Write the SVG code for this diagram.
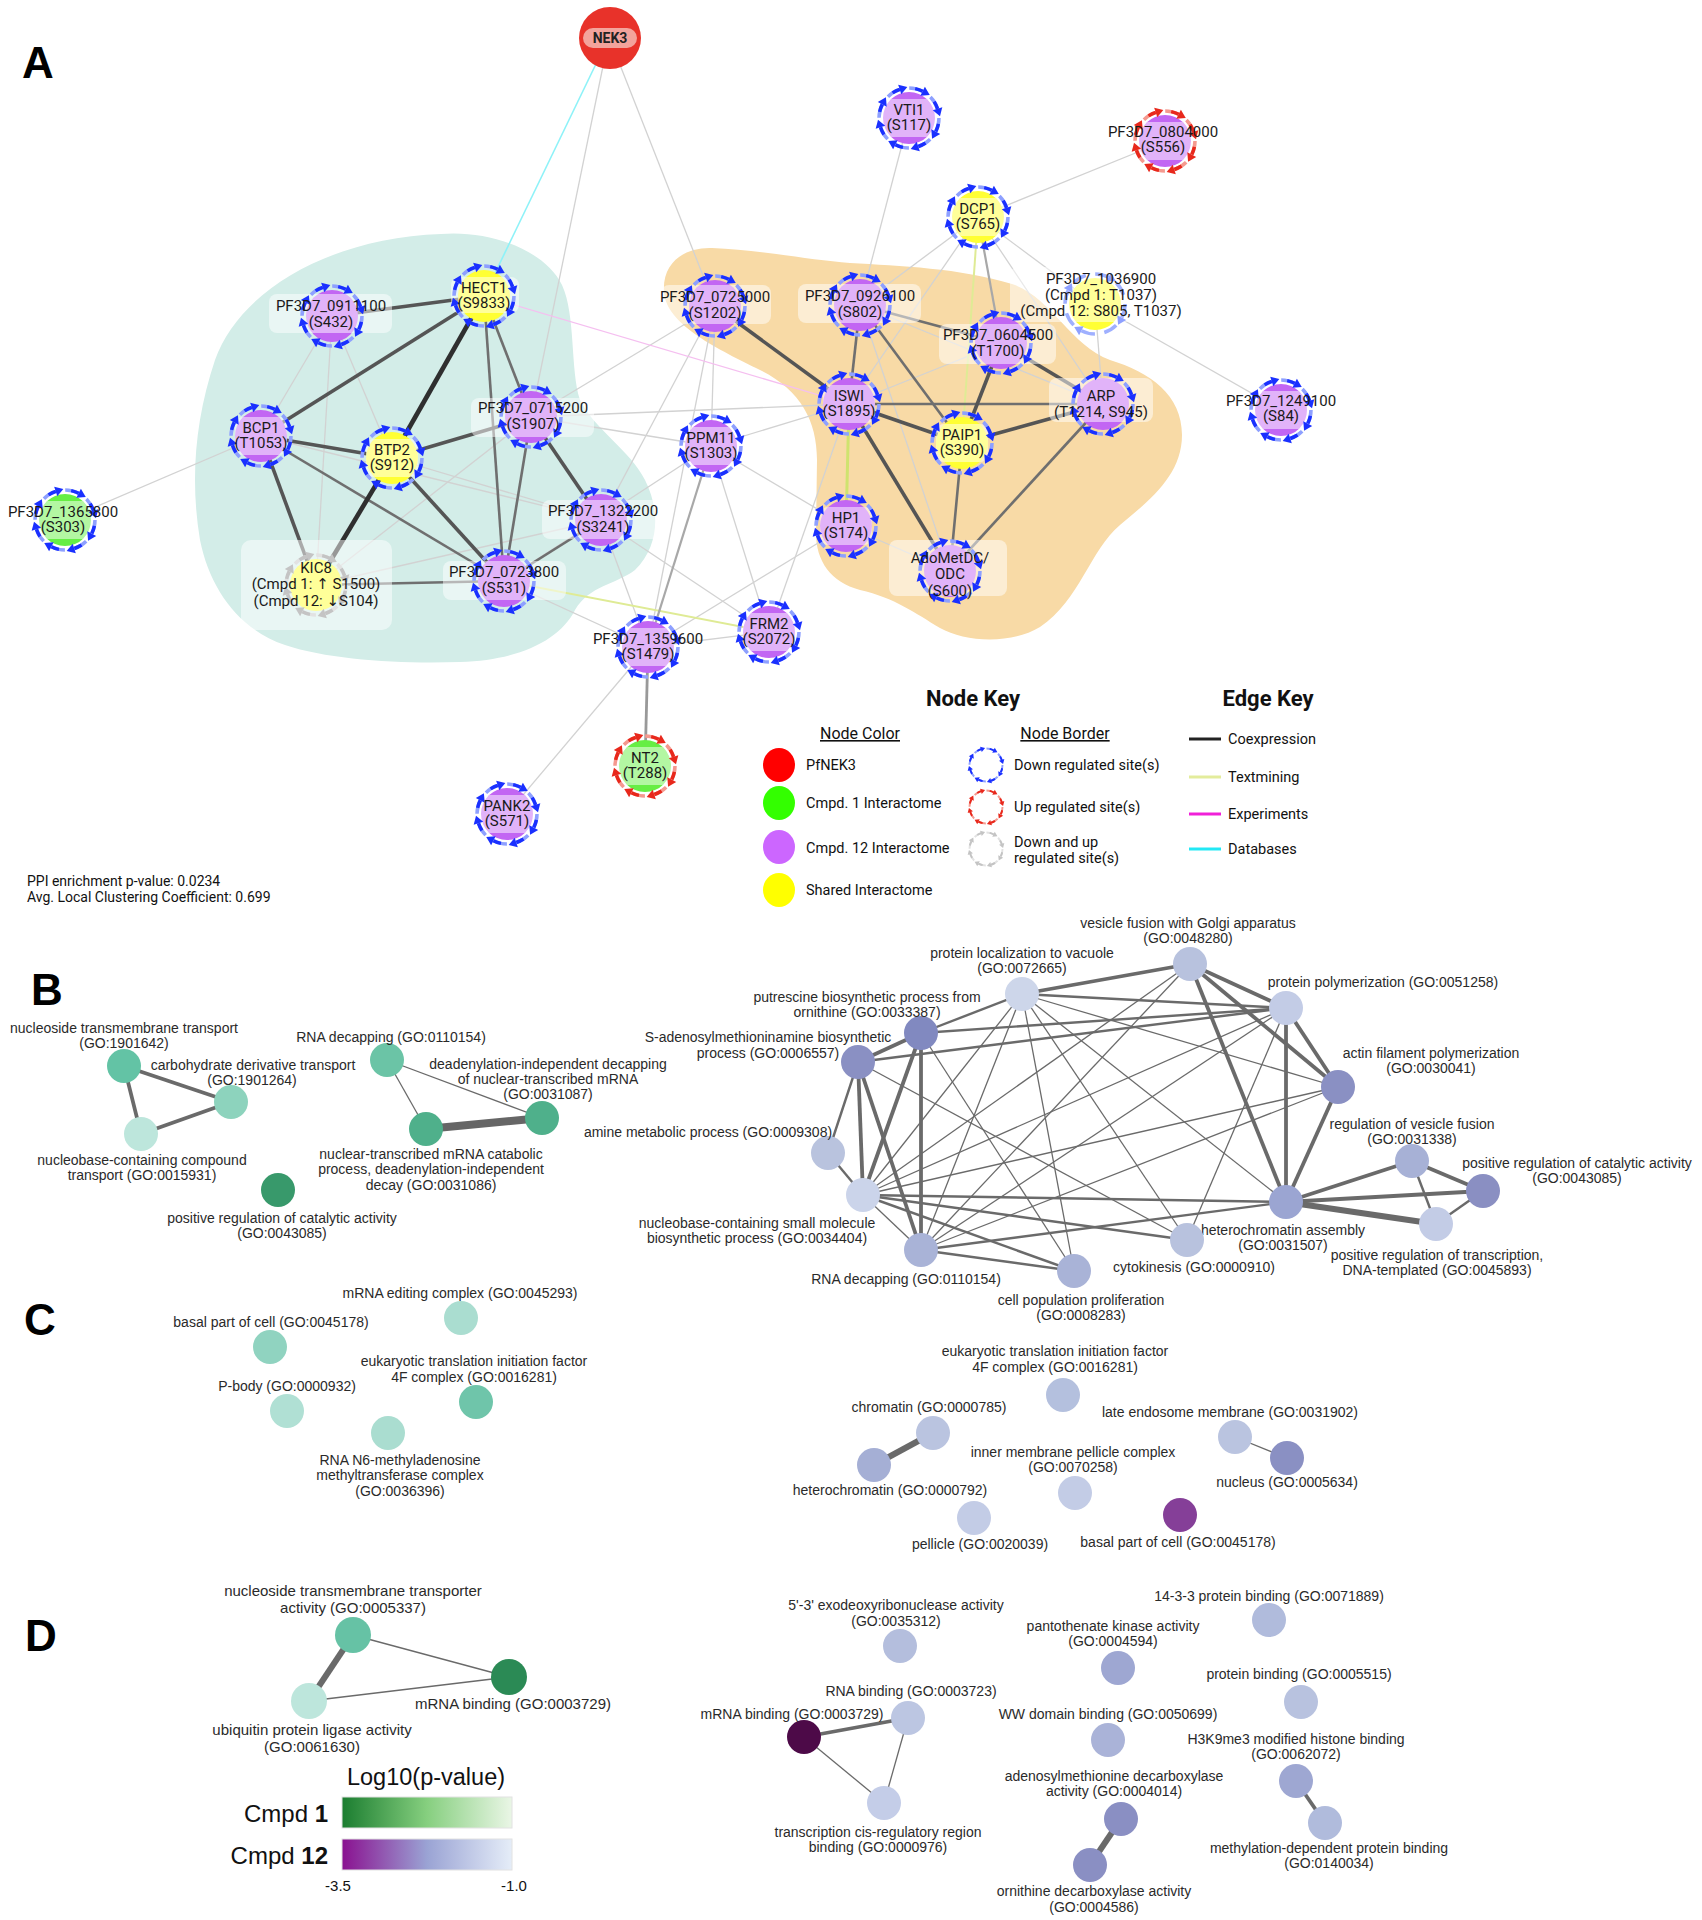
<svg xmlns="http://www.w3.org/2000/svg" width="1702" height="1920" viewBox="0 0 1702 1920">
<defs>
<style>
.panel{font-family:"Liberation Sans",Arial,sans-serif;font-weight:bold;font-size:44px;fill:#000}
.nl{font-family:Roboto,"Liberation Sans",sans-serif;font-size:15px;fill:#1a1a1a;text-anchor:middle}
.lb{fill:#fff;fill-opacity:.5}
.pu{fill:#c266f3}
.ye{fill:#ffff33}
.gr{fill:#66ee44}
.e0{stroke:#d2d2d2;stroke-width:1.3;fill:none}
.e1{stroke:#a8a8a8;stroke-width:2.2;fill:none}
.e2{stroke:#6f6f6f;stroke-width:2.6;fill:none}
.e3{stroke:#555;stroke-width:3.6;fill:none}
.e4{stroke:#2f2f2f;stroke-width:4.6;fill:none}
.tm{stroke:#dfeb95;stroke-width:2;fill:none}
.tm2{stroke:#cfe36f;stroke-width:3;fill:none}
.ex{stroke:#f5bff0;stroke-width:1.3;fill:none}
.db{stroke:#8ef2f8;stroke-width:1.6;fill:none}
.g1{stroke:#6a6a6a;stroke-width:1.3;fill:none}
.g2{stroke:#6a6a6a;stroke-width:2.4;fill:none}
.g3{stroke:#6a6a6a;stroke-width:3.8;fill:none}
.g4{stroke:#6a6a6a;stroke-width:6;fill:none}
.g5{stroke:#666;stroke-width:8;fill:none}
.go{font-family:"Liberation Sans",Arial,sans-serif;font-size:14px;fill:#2a2a2a;text-anchor:middle}
.lg{font-family:Roboto,"Liberation Sans",sans-serif;font-size:14.5px;fill:#111}
.lh{font-family:Roboto,"Liberation Sans",sans-serif;font-size:22px;font-weight:bold;fill:#111;text-anchor:middle}
.lu{font-family:Roboto,"Liberation Sans",sans-serif;font-size:16px;fill:#111;text-anchor:middle;text-decoration:underline}
.st{font-family:Roboto,"Liberation Sans",sans-serif;font-size:14px;fill:#111}
.ar{font-family:"DejaVu Sans",sans-serif;font-size:15px}
</style>
<g id="ringB">
<circle r="30" fill="none" stroke="#8ea0ff" stroke-width="3.5" stroke-dasharray="14 9.56"/>
<circle r="30" fill="none" stroke="#1a30ff" stroke-width="3.5" stroke-dasharray="8 15.56" stroke-dashoffset="-6"/>
<g fill="#1a30ff">
<path d="M0,-35 L8,-30 L0,-25Z" transform="rotate(117)"/>
<path d="M0,-35 L8,-30 L0,-25Z" transform="rotate(162)"/>
<path d="M0,-35 L8,-30 L0,-25Z" transform="rotate(207)"/>
<path d="M0,-35 L8,-30 L0,-25Z" transform="rotate(252)"/>
<path d="M0,-35 L8,-30 L0,-25Z" transform="rotate(297)"/>
<path d="M0,-35 L8,-30 L0,-25Z" transform="rotate(342)"/>
<path d="M0,-35 L8,-30 L0,-25Z" transform="rotate(27)"/>
<path d="M0,-35 L8,-30 L0,-25Z" transform="rotate(72)"/>
</g>
</g>
<g id="ringR">
<circle r="30" fill="none" stroke="#f5998f" stroke-width="3.5" stroke-dasharray="14 9.56"/>
<circle r="30" fill="none" stroke="#e8281c" stroke-width="3.5" stroke-dasharray="8 15.56" stroke-dashoffset="-6"/>
<g fill="#e8281c">
<path d="M0,-35 L8,-30 L0,-25Z" transform="rotate(117)"/>
<path d="M0,-35 L8,-30 L0,-25Z" transform="rotate(162)"/>
<path d="M0,-35 L8,-30 L0,-25Z" transform="rotate(207)"/>
<path d="M0,-35 L8,-30 L0,-25Z" transform="rotate(252)"/>
<path d="M0,-35 L8,-30 L0,-25Z" transform="rotate(297)"/>
<path d="M0,-35 L8,-30 L0,-25Z" transform="rotate(342)"/>
<path d="M0,-35 L8,-30 L0,-25Z" transform="rotate(27)"/>
<path d="M0,-35 L8,-30 L0,-25Z" transform="rotate(72)"/>
</g>
</g>
<g id="ringG">
<circle r="30" fill="none" stroke="#e2e2e2" stroke-width="3.5" stroke-dasharray="14 9.56"/>
<circle r="30" fill="none" stroke="#c4c4c4" stroke-width="3.5" stroke-dasharray="8 15.56" stroke-dashoffset="-6"/>
<g fill="#c4c4c4">
<path d="M0,-35 L8,-30 L0,-25Z" transform="rotate(117)"/>
<path d="M0,-35 L8,-30 L0,-25Z" transform="rotate(162)"/>
<path d="M0,-35 L8,-30 L0,-25Z" transform="rotate(207)"/>
<path d="M0,-35 L8,-30 L0,-25Z" transform="rotate(252)"/>
<path d="M0,-35 L8,-30 L0,-25Z" transform="rotate(297)"/>
<path d="M0,-35 L8,-30 L0,-25Z" transform="rotate(342)"/>
<path d="M0,-35 L8,-30 L0,-25Z" transform="rotate(27)"/>
<path d="M0,-35 L8,-30 L0,-25Z" transform="rotate(72)"/>
</g>
</g>
<g id="ringL">
<circle r="30" fill="none" stroke="#9fb0ff" stroke-width="3.5" stroke-dasharray="14 9.56"/>
<g fill="#8ea0ff">
<path d="M0,-35 L8,-30 L0,-25Z" transform="rotate(117)"/>
<path d="M0,-35 L8,-30 L0,-25Z" transform="rotate(207)"/>
<path d="M0,-35 L8,-30 L0,-25Z" transform="rotate(297)"/>
<path d="M0,-35 L8,-30 L0,-25Z" transform="rotate(27)"/>
</g>
</g>
<linearGradient id="gG" x1="0" x2="1" y1="0" y2="0"><stop offset="0" stop-color="#1b7d30"/><stop offset=".5" stop-color="#86cf7f"/><stop offset="1" stop-color="#eaf6e6"/></linearGradient>
<linearGradient id="gP" x1="0" x2="1" y1="0" y2="0"><stop offset="0" stop-color="#8a1190"/><stop offset=".5" stop-color="#9aa3d4"/><stop offset="1" stop-color="#e5edf8"/></linearGradient>
</defs>
<rect width="1702" height="1920" fill="#fff"/>

<!-- Panel labels -->
<text class="panel" x="22" y="78">A</text>
<text class="panel" x="31" y="1005">B</text>
<text class="panel" x="24" y="1335">C</text>
<text class="panel" x="25" y="1651">D</text>

<!-- Hulls -->
<g id="hulls">
<path fill="#d3ede8" d="M441,234 C490,230 545,250 562,285 C576,315 570,370 580,400 C595,430 630,450 645,480 C660,510 660,545 635,570 C615,585 590,585 575,610 C560,640 520,660 460,662 C400,664 330,660 285,645 C240,630 210,590 200,540 C190,480 195,420 215,360 C240,290 330,238 441,234 Z"/>
<path fill="#f8daa6" d="M664,292 C662,262 685,247 712,248 C760,250 810,260 850,263 C900,266 960,268 1012,284 C1050,296 1070,345 1110,360 C1150,372 1182,395 1182,435 C1182,475 1150,500 1120,525 C1090,550 1080,600 1040,627 C1010,645 965,642 940,628 C915,613 895,598 860,590 C830,582 815,560 816,530 L817,460 C817,420 800,390 760,370 C720,350 666,325 664,292 Z"/>
</g>

<!-- Connectors panel A -->
<g id="connectors-A">
<line class="db" x1="609" y1="37" x2="484" y2="296"/>
<line class="e0" x1="609" y1="37" x2="531" y2="417"/>
<line class="e0" x1="609" y1="37" x2="715" y2="306"/>
<line class="e0" x1="332" y1="316" x2="261" y2="436"/>
<line class="e0" x1="332" y1="316" x2="392" y2="458"/>
<line class="e0" x1="332" y1="316" x2="316" y2="585"/>
<line class="e0" x1="261" y1="436" x2="601" y2="520"/>
<line class="e0" x1="261" y1="436" x2="65" y2="520"/>
<line class="e0" x1="392" y1="458" x2="601" y2="520"/>
<line class="e0" x1="531" y1="417" x2="316" y2="585"/>
<line class="e0" x1="531" y1="417" x2="711" y2="446"/>
<line class="e0" x1="531" y1="417" x2="715" y2="306"/>
<line class="e0" x1="531" y1="417" x2="849" y2="404"/>
<line class="e0" x1="316" y1="585" x2="601" y2="520"/>
<line class="e0" x1="504" y1="581" x2="648" y2="647"/>
<line class="e0" x1="601" y1="520" x2="648" y2="647"/>
<line class="e0" x1="601" y1="520" x2="769" y2="632"/>
<line class="e0" x1="715" y1="306" x2="601" y2="520"/>
<line class="e0" x1="715" y1="306" x2="711" y2="446"/>
<line class="e0" x1="715" y1="306" x2="648" y2="647"/>
<line class="e0" x1="711" y1="446" x2="849" y2="404"/>
<line class="e0" x1="711" y1="446" x2="846" y2="526"/>
<line class="e0" x1="711" y1="446" x2="769" y2="632"/>
<line class="e0" x1="711" y1="446" x2="504" y2="581"/>
<line class="e0" x1="849" y1="404" x2="769" y2="632"/>
<line class="e0" x1="846" y1="526" x2="648" y2="647"/>
<line class="e0" x1="769" y1="632" x2="648" y2="647"/>
<line class="e0" x1="648" y1="647" x2="507" y2="814"/>
<line class="e0" x1="860" y1="305" x2="1103" y2="404"/>
<line class="e0" x1="860" y1="305" x2="950" y2="571"/>
<line class="e0" x1="1001" y1="343" x2="849" y2="404"/>
<line class="e0" x1="978" y1="217" x2="860" y2="305"/>
<line class="e0" x1="978" y1="217" x2="849" y2="404"/>
<line class="e0" x1="978" y1="217" x2="1095" y2="304"/>
<line class="e0" x1="978" y1="217" x2="1103" y2="404"/>
<line class="e0" x1="978" y1="217" x2="1165" y2="141"/>
<line class="e0" x1="909" y1="118" x2="860" y2="305"/>
<line class="e0" x1="1095" y1="304" x2="1281" y2="410"/>
<line class="e0" x1="1095" y1="304" x2="1103" y2="404"/>
<line class="e0" x1="846" y1="526" x2="950" y2="571"/>
<line class="ex" x1="484" y1="296" x2="849" y2="404"/>
<line class="tm" x1="504" y1="581" x2="769" y2="632"/>
<line class="tm" x1="978" y1="217" x2="962" y2="443"/>
<line class="e1" x1="711" y1="446" x2="648" y2="647"/>
<line class="e1" x1="978" y1="217" x2="1001" y2="343"/>
<line class="e1" x1="648" y1="647" x2="645" y2="766" style="stroke:#999;stroke-width:2.8"/>
<line class="e2" x1="484" y1="296" x2="531" y2="417"/>
<line class="e2" x1="484" y1="296" x2="504" y2="581"/>
<line class="e2" x1="261" y1="436" x2="504" y2="581"/>
<line class="e2" x1="531" y1="417" x2="504" y2="581"/>
<line class="e2" x1="601" y1="520" x2="504" y2="581"/>
<line class="e2" x1="316" y1="585" x2="504" y2="581"/>
<line class="e2" x1="860" y1="305" x2="849" y2="404"/>
<line class="e2" x1="860" y1="305" x2="1001" y2="343"/>
<line class="e2" x1="860" y1="305" x2="962" y2="443"/>
<line class="e2" x1="849" y1="404" x2="1103" y2="404"/>
<line class="e2" x1="962" y1="443" x2="950" y2="571"/>
<line class="e2" x1="1103" y1="404" x2="950" y2="571"/>
<line class="tm2" x1="849" y1="404" x2="846" y2="526"/>
<line class="e3" x1="332" y1="316" x2="484" y2="296"/>
<line class="e3" x1="484" y1="296" x2="261" y2="436"/>
<line class="e3" x1="261" y1="436" x2="392" y2="458"/>
<line class="e3" x1="261" y1="436" x2="316" y2="585"/>
<line class="e3" x1="392" y1="458" x2="531" y2="417"/>
<line class="e3" x1="392" y1="458" x2="504" y2="581"/>
<line class="e3" x1="531" y1="417" x2="601" y2="520"/>
<line class="e3" x1="715" y1="306" x2="849" y2="404"/>
<line class="e3" x1="1001" y1="343" x2="962" y2="443"/>
<line class="e3" x1="1001" y1="343" x2="1103" y2="404"/>
<line class="e3" x1="849" y1="404" x2="962" y2="443"/>
<line class="e3" x1="849" y1="404" x2="950" y2="571"/>
<line class="e3" x1="962" y1="443" x2="1103" y2="404"/>
<line class="e4" x1="484" y1="296" x2="392" y2="458"/>
<line class="e4" x1="392" y1="458" x2="316" y2="585"/>
</g>

<!-- Nodes panel A -->
<g id="node-NEK3">
<circle cx="610" cy="38" r="31" fill="#e8322a"/>
<rect x="583" y="28" width="54" height="20" rx="10" fill="#f3a39c"/>
<text x="610" y="43" style="font-family:Roboto,'Liberation Sans',sans-serif;font-size:14px;font-weight:bold;fill:#222;text-anchor:middle">NEK3</text>
</g>
<g id="node-VTI1">
<circle cx="909" cy="118" r="26" class="pu"/>
<rect class="lb" x="875" y="99" width="68" height="38" rx="8"/>
<use href="#ringB" x="909" y="118"/>
<text class="nl" x="909" y="115">VTI1</text><text class="nl" x="909" y="130">(S117)</text>
</g>
<g id="node-PF3D7_0804000">
<circle cx="1165" cy="141" r="26" class="pu"/>
<rect class="lb" x="1139" y="122" width="52" height="38" rx="8"/>
<use href="#ringR" x="1165" y="141"/>
<text class="nl" x="1163" y="137">PF3D7_0804000</text><text class="nl" x="1163" y="152">(S556)</text>
</g>
<g id="node-DCP1">
<circle cx="978" cy="217" r="26" class="ye"/>
<rect class="lb" x="952" y="198" width="52" height="38" rx="8"/>
<use href="#ringB" x="978" y="217"/>
<text class="nl" x="978" y="214">DCP1</text><text class="nl" x="978" y="229">(S765)</text>
</g>
<g id="node-PF3D7_1036900">
<circle cx="1095" cy="304" r="26" class="ye"/>
<rect class="lb" x="1010" y="267" width="174" height="55" rx="8"/>
<use href="#ringL" x="1095" y="304"/>
<text class="nl" x="1101" y="284">PF3D7_1036900</text><text class="nl" x="1101" y="300">(Cmpd 1: T1037)</text><text class="nl" x="1101" y="316">(Cmpd 12: S805, T1037)</text>
</g>
<g id="node-PF3D7_1249100">
<circle cx="1281" cy="410" r="26" class="pu"/>
<rect class="lb" x="1255" y="391" width="52" height="38" rx="8"/>
<use href="#ringB" x="1281" y="410"/>
<text class="nl" x="1281" y="406">PF3D7_1249100</text><text class="nl" x="1281" y="421">(S84)</text>
</g>
<g id="node-PF3D7_0725000">
<circle cx="715" cy="306" r="26" class="pu"/>
<rect class="lb" x="661" y="285" width="110" height="39" rx="8"/>
<use href="#ringB" x="715" y="306"/>
<text class="nl" x="715" y="302">PF3D7_0725000</text><text class="nl" x="715" y="318">(S1202)</text>
</g>
<g id="node-PF3D7_0926100">
<circle cx="860" cy="305" r="26" class="pu"/>
<rect class="lb" x="798" y="284" width="123" height="39" rx="8"/>
<use href="#ringB" x="860" y="305"/>
<text class="nl" x="860" y="301">PF3D7_0926100</text><text class="nl" x="860" y="317">(S802)</text>
</g>
<g id="node-PF3D7_0604500">
<circle cx="1001" cy="343" r="26" class="pu"/>
<rect class="lb" x="939" y="324" width="117" height="40" rx="8"/>
<use href="#ringB" x="1001" y="343"/>
<text class="nl" x="998" y="340">PF3D7_0604500</text><text class="nl" x="998" y="356">(T1700)</text>
</g>
<g id="node-ARP">
<circle cx="1103" cy="404" r="26" class="pu"/>
<rect class="lb" x="1049" y="378" width="104" height="44" rx="8"/>
<use href="#ringB" x="1103" y="404"/>
<text class="nl" x="1101" y="401">ARP</text><text class="nl" x="1101" y="417">(T1214, S945)</text>
</g>
<g id="node-ISWI">
<circle cx="849" cy="404" r="26" class="pu"/>
<rect class="lb" x="823" y="385" width="52" height="38" rx="8"/>
<use href="#ringB" x="849" y="404"/>
<text class="nl" x="849" y="401">ISWI</text><text class="nl" x="849" y="416">(S1895)</text>
</g>
<g id="node-PAIP1">
<circle cx="962" cy="443" r="26" class="ye"/>
<rect class="lb" x="936" y="424" width="52" height="38" rx="8"/>
<use href="#ringB" x="962" y="443"/>
<text class="nl" x="962" y="440">PAIP1</text><text class="nl" x="962" y="455">(S390)</text>
</g>
<g id="node-PPM11">
<circle cx="711" cy="446" r="26" class="pu"/>
<rect class="lb" x="685" y="427" width="52" height="38" rx="8"/>
<use href="#ringB" x="711" y="446"/>
<text class="nl" x="711" y="443">PPM11</text><text class="nl" x="711" y="458">(S1303)</text>
</g>
<g id="node-HP1">
<circle cx="846" cy="526" r="26" class="pu"/>
<rect class="lb" x="820" y="507" width="52" height="38" rx="8"/>
<use href="#ringB" x="846" y="526"/>
<text class="nl" x="846" y="523">HP1</text><text class="nl" x="846" y="538">(S174)</text>
</g>
<g id="node-AdoMetDC-ODC">
<circle cx="950" cy="571" r="26" class="pu"/>
<rect class="lb" x="889" y="540" width="118" height="56" rx="8"/>
<use href="#ringB" x="950" y="571"/>
<text class="nl" x="950" y="563">AdoMetDC/</text><text class="nl" x="950" y="579">ODC</text><text class="nl" x="950" y="596">(S600)</text>
</g>
<g id="node-FRM2">
<circle cx="769" cy="632" r="26" class="pu"/>
<rect class="lb" x="743" y="613" width="52" height="38" rx="8"/>
<use href="#ringB" x="769" y="632"/>
<text class="nl" x="769" y="629">FRM2</text><text class="nl" x="769" y="644">(S2072)</text>
</g>
<g id="node-PF3D7_1359600">
<circle cx="648" cy="647" r="26" class="pu"/>
<rect class="lb" x="622" y="628" width="52" height="38" rx="8"/>
<use href="#ringB" x="648" y="647"/>
<text class="nl" x="648" y="644">PF3D7_1359600</text><text class="nl" x="648" y="659">(S1479)</text>
</g>
<g id="node-NT2">
<circle cx="645" cy="766" r="26" class="gr"/>
<rect class="lb" x="619" y="747" width="52" height="38" rx="8"/>
<use href="#ringR" x="645" y="766"/>
<text class="nl" x="645" y="763">NT2</text><text class="nl" x="645" y="778">(T288)</text>
</g>
<g id="node-PANK2">
<circle cx="507" cy="814" r="26" class="pu"/>
<rect class="lb" x="481" y="795" width="52" height="38" rx="8"/>
<use href="#ringB" x="507" y="814"/>
<text class="nl" x="507" y="811">PANK2</text><text class="nl" x="507" y="826">(S571)</text>
</g>
<g id="node-HECT1">
<circle cx="484" cy="296" r="26" class="ye"/>
<rect class="lb" x="451" y="277" width="68" height="36" rx="8"/>
<use href="#ringB" x="484" y="296"/>
<text class="nl" x="484" y="293">HECT1</text><text class="nl" x="484" y="308">(S9833)</text>
</g>
<g id="node-PF3D7_0911100">
<circle cx="332" cy="316" r="26" class="pu"/>
<rect class="lb" x="269" y="294" width="123" height="39" rx="8"/>
<use href="#ringB" x="332" y="316"/>
<text class="nl" x="331" y="311">PF3D7_0911100</text><text class="nl" x="331" y="327">(S432)</text>
</g>
<g id="node-PF3D7_0715200">
<circle cx="531" cy="417" r="26" class="pu"/>
<rect class="lb" x="471" y="398" width="123" height="39" rx="8"/>
<use href="#ringB" x="531" y="417"/>
<text class="nl" x="533" y="413">PF3D7_0715200</text><text class="nl" x="533" y="429">(S1907)</text>
</g>
<g id="node-BCP1">
<circle cx="261" cy="436" r="26" class="pu"/>
<rect class="lb" x="235" y="417" width="52" height="38" rx="8"/>
<use href="#ringB" x="261" y="436"/>
<text class="nl" x="261" y="433">BCP1</text><text class="nl" x="261" y="448">(T1053)</text>
</g>
<g id="node-BTP2">
<circle cx="392" cy="458" r="26" class="ye"/>
<rect class="lb" x="366" y="439" width="52" height="38" rx="8"/>
<use href="#ringB" x="392" y="458"/>
<text class="nl" x="392" y="455">BTP2</text><text class="nl" x="392" y="470">(S912)</text>
</g>
<g id="node-PF3D7_1322200">
<circle cx="601" cy="520" r="26" class="pu"/>
<rect class="lb" x="542" y="500" width="119" height="39" rx="8"/>
<use href="#ringB" x="601" y="520"/>
<text class="nl" x="603" y="516">PF3D7_1322200</text><text class="nl" x="603" y="532">(S3241)</text>
</g>
<g id="node-PF3D7_0723800">
<circle cx="504" cy="581" r="26" class="pu"/>
<rect class="lb" x="443" y="561" width="123" height="39" rx="8"/>
<use href="#ringB" x="504" y="581"/>
<text class="nl" x="504" y="577">PF3D7_0723800</text><text class="nl" x="504" y="593">(S531)</text>
</g>
<g id="node-KIC8">
<circle cx="316" cy="585" r="26" class="ye"/>
<rect class="lb" x="241" y="540" width="151" height="90" rx="10"/>
<use href="#ringG" x="316" y="585"/>
<text class="nl" x="316" y="573">KIC8</text><text class="nl" x="316" y="589">(Cmpd 1: <tspan class="ar">↑</tspan> S1500)</text><text class="nl" x="316" y="606">(Cmpd 12:  <tspan class="ar">↓</tspan>S104)</text>
</g>
<g id="node-PF3D7_1365800">
<circle cx="65" cy="520" r="26" class="gr"/>
<rect class="lb" x="39" y="501" width="52" height="38" rx="8"/>
<use href="#ringB" x="65" y="520"/>
<text class="nl" x="63" y="517">PF3D7_1365800</text><text class="nl" x="63" y="532">(S303)</text>
</g>

<!-- Legend A -->
<g id="legend-A">
<text class="lh" x="973" y="706">Node Key</text>
<text class="lh" x="1268" y="706">Edge Key</text>
<text class="lu" x="860" y="739">Node Color</text>
<text class="lu" x="1065" y="739">Node Border</text>
<ellipse cx="779" cy="765" rx="16" ry="17" fill="#ff0000"/>
<ellipse cx="779" cy="803" rx="16" ry="17" fill="#33ff00"/>
<ellipse cx="779" cy="847" rx="16" ry="17" fill="#cc66ff"/>
<ellipse cx="779" cy="890" rx="16" ry="17" fill="#ffff00"/>
<text class="lg" x="806" y="770">PfNEK3</text>
<text class="lg" x="806" y="808">Cmpd. 1 Interactome</text>
<text class="lg" x="806" y="853">Cmpd. 12 Interactome</text>
<text class="lg" x="806" y="895">Shared Interactome</text>
<use href="#ringB" transform="translate(986,765) scale(0.55)"/>
<use href="#ringR" transform="translate(986,807) scale(0.55)"/>
<use href="#ringG" transform="translate(986,849) scale(0.55)"/>
<text class="lg" x="1014" y="770">Down regulated site(s)</text>
<text class="lg" x="1014" y="812">Up regulated site(s)</text>
<text class="lg" x="1014" y="847">Down and up</text>
<text class="lg" x="1014" y="863">regulated site(s)</text>
<line x1="1189" y1="739" x2="1221" y2="739" stroke="#222" stroke-width="3"/>
<line x1="1189" y1="777" x2="1221" y2="777" stroke="#e3ec9c" stroke-width="3"/>
<line x1="1189" y1="814" x2="1221" y2="814" stroke="#f020d8" stroke-width="3"/>
<line x1="1189" y1="849" x2="1221" y2="849" stroke="#22e8f5" stroke-width="3"/>
<text class="lg" x="1228" y="744">Coexpression</text>
<text class="lg" x="1228" y="782">Textmining</text>
<text class="lg" x="1228" y="819">Experiments</text>
<text class="lg" x="1228" y="854">Databases</text>
<text class="st" x="27" y="886">PPI enrichment p-value: 0.0234</text>
<text class="st" x="27" y="902">Avg. Local Clustering Coefficient: 0.699</text>
</g>

<!-- Connectors panels B-D -->
<g id="connectors-BCD">
<line class="g3" x1="124" y1="1066" x2="231" y2="1102"/>
<line class="g3" x1="124" y1="1066" x2="141" y2="1134"/>
<line class="g3" x1="231" y1="1102" x2="141" y2="1134"/>
<line class="g1" x1="387" y1="1060" x2="542" y2="1118"/>
<line class="g1" x1="387" y1="1060" x2="426" y2="1129"/>
<line class="g5" x1="426" y1="1129" x2="542" y2="1118"/>
<line class="g1" x1="1190" y1="964" x2="863" y2="1195"/>
<line class="g1" x1="1190" y1="964" x2="921" y2="1250"/>
<line class="g1" x1="1022" y1="994" x2="1338" y2="1087"/>
<line class="g1" x1="1022" y1="994" x2="863" y2="1195"/>
<line class="g1" x1="1022" y1="994" x2="921" y2="1250"/>
<line class="g1" x1="1022" y1="994" x2="1074" y2="1271"/>
<line class="g1" x1="1022" y1="994" x2="1187" y2="1240"/>
<line class="g1" x1="1022" y1="994" x2="1286" y2="1202"/>
<line class="g1" x1="1286" y1="1008" x2="863" y2="1195"/>
<line class="g1" x1="1286" y1="1008" x2="921" y2="1250"/>
<line class="g1" x1="1286" y1="1008" x2="1187" y2="1240"/>
<line class="g1" x1="1338" y1="1087" x2="863" y2="1195"/>
<line class="g1" x1="1338" y1="1087" x2="921" y2="1250"/>
<line class="g1" x1="921" y1="1033" x2="1074" y2="1271"/>
<line class="g1" x1="858" y1="1062" x2="1187" y2="1240"/>
<line class="g1" x1="863" y1="1195" x2="921" y2="1250"/>
<line class="g2" x1="1022" y1="994" x2="1286" y2="1008"/>
<line class="g2" x1="1022" y1="994" x2="921" y2="1033"/>
<line class="g2" x1="1286" y1="1008" x2="921" y2="1033"/>
<line class="g2" x1="1286" y1="1008" x2="858" y2="1062"/>
<line class="g2" x1="858" y1="1062" x2="828" y2="1153"/>
<line class="g2" x1="828" y1="1153" x2="863" y2="1195"/>
<line class="g2" x1="1286" y1="1202" x2="863" y2="1195"/>
<line class="g2" x1="1286" y1="1202" x2="921" y2="1250"/>
<line class="g2" x1="863" y1="1195" x2="1187" y2="1240"/>
<line class="g2" x1="863" y1="1195" x2="1074" y2="1271"/>
<line class="g2" x1="921" y1="1250" x2="1074" y2="1271"/>
<line class="g2" x1="1412" y1="1161" x2="1436" y2="1224"/>
<line class="g2" x1="1483" y1="1191" x2="1436" y2="1224"/>
<line class="g3" x1="1190" y1="964" x2="1022" y2="994"/>
<line class="g3" x1="1190" y1="964" x2="1286" y2="1008"/>
<line class="g3" x1="1190" y1="964" x2="1338" y2="1087"/>
<line class="g3" x1="1190" y1="964" x2="1286" y2="1202"/>
<line class="g3" x1="1286" y1="1008" x2="1338" y2="1087"/>
<line class="g3" x1="1286" y1="1008" x2="1286" y2="1202"/>
<line class="g3" x1="921" y1="1033" x2="858" y2="1062"/>
<line class="g3" x1="921" y1="1033" x2="863" y2="1195"/>
<line class="g3" x1="921" y1="1033" x2="921" y2="1250"/>
<line class="g3" x1="858" y1="1062" x2="863" y2="1195"/>
<line class="g3" x1="858" y1="1062" x2="921" y2="1250"/>
<line class="g3" x1="1338" y1="1087" x2="1286" y2="1202"/>
<line class="g3" x1="1286" y1="1202" x2="1412" y2="1161"/>
<line class="g3" x1="1286" y1="1202" x2="1483" y2="1191"/>
<line class="g3" x1="1412" y1="1161" x2="1483" y2="1191"/>
<line class="g4" x1="1286" y1="1202" x2="1436" y2="1224"/>
<line class="g4" x1="933" y1="1433" x2="874" y2="1465"/>
<line class="g1" x1="1235" y1="1437" x2="1287" y2="1458"/>
<line class="g4" x1="353" y1="1635" x2="309" y2="1701"/>
<line class="g1" x1="353" y1="1635" x2="509" y2="1677"/>
<line class="g1" x1="309" y1="1701" x2="509" y2="1677"/>
<line class="g3" x1="804" y1="1737" x2="908" y2="1718"/>
<line class="g1" x1="804" y1="1737" x2="884" y2="1803"/>
<line class="g1" x1="908" y1="1718" x2="884" y2="1803"/>
<line class="g4" x1="1121" y1="1819" x2="1090" y2="1865"/>
<line class="g3" x1="1296" y1="1781" x2="1325" y2="1823"/>
</g>

<!-- Panel B nodes -->
<g id="b-1901642"><circle cx="124" cy="1066" r="17" fill="#63c3a5"/><text class="go" x="124" y="1033">nucleoside transmembrane transport</text><text class="go" x="124" y="1048">(GO:1901642)</text></g>
<g id="b-1901264"><circle cx="231" cy="1102" r="17" fill="#8dd3bd"/><text class="go" x="253" y="1070">carbohydrate derivative transport</text><text class="go" x="252" y="1085">(GO:1901264)</text></g>
<g id="b-0015931"><circle cx="141" cy="1134" r="17" fill="#bde6dc"/><text class="go" x="142" y="1165">nucleobase-containing compound</text><text class="go" x="142" y="1180">transport (GO:0015931)</text></g>
<g id="b-0043085a"><circle cx="278" cy="1190" r="17" fill="#38996b"/><text class="go" x="282" y="1223">positive regulation of catalytic activity</text><text class="go" x="282" y="1238">(GO:0043085)</text></g>
<g id="b-0110154a"><circle cx="387" cy="1060" r="17" fill="#6bc4a6"/><text class="go" x="391" y="1042">RNA decapping (GO:0110154)</text></g>
<g id="b-0031087"><circle cx="542" cy="1118" r="17" fill="#4fb08b"/><text class="go" x="548" y="1069">deadenylation-independent decapping</text><text class="go" x="548" y="1084">of nuclear-transcribed mRNA</text><text class="go" x="548" y="1099">(GO:0031087)</text></g>
<g id="b-0031086"><circle cx="426" cy="1129" r="17" fill="#4fb08b"/><text class="go" x="431" y="1159">nuclear-transcribed mRNA catabolic</text><text class="go" x="431" y="1174">process, deadenylation-independent</text><text class="go" x="431" y="1190">decay (GO:0031086)</text></g>

<g id="b-0048280"><circle cx="1190" cy="964" r="17" fill="#b8c2de"/><text class="go" x="1188" y="928">vesicle fusion with Golgi apparatus</text><text class="go" x="1188" y="943">(GO:0048280)</text></g>
<g id="b-0072665"><circle cx="1022" cy="994" r="17" fill="#cdd6ea"/><text class="go" x="1022" y="958">protein localization to vacuole</text><text class="go" x="1022" y="973">(GO:0072665)</text></g>
<g id="b-0051258"><circle cx="1286" cy="1008" r="17" fill="#c3cce6"/><text class="go" x="1383" y="987">protein polymerization (GO:0051258)</text></g>
<g id="b-0033387"><circle cx="921" cy="1033" r="17" fill="#8189c0"/><text class="go" x="867" y="1002">putrescine biosynthetic process from</text><text class="go" x="867" y="1017">ornithine (GO:0033387)</text></g>
<g id="b-0006557"><circle cx="858" cy="1062" r="17" fill="#8a90c3"/><text class="go" x="768" y="1042">S-adenosylmethioninamine biosynthetic</text><text class="go" x="768" y="1058">process (GO:0006557)</text></g>
<g id="b-0030041"><circle cx="1338" cy="1087" r="17" fill="#8a90c3"/><text class="go" x="1431" y="1058">actin filament polymerization</text><text class="go" x="1431" y="1073">(GO:0030041)</text></g>
<g id="b-0009308"><circle cx="828" cy="1153" r="17" fill="#b9c3de"/><text class="go" x="708" y="1137">amine metabolic process (GO:0009308)</text></g>
<g id="b-0034404"><circle cx="863" cy="1195" r="17" fill="#cbd4ea"/><text class="go" x="757" y="1228">nucleobase-containing small molecule</text><text class="go" x="757" y="1243">biosynthetic process (GO:0034404)</text></g>
<g id="b-0031338"><circle cx="1412" cy="1161" r="17" fill="#a7b1d6"/><text class="go" x="1412" y="1129">regulation of vesicle fusion</text><text class="go" x="1412" y="1144">(GO:0031338)</text></g>
<g id="b-0043085b"><circle cx="1483" cy="1191" r="17" fill="#8a8fc2"/><text class="go" x="1577" y="1168">positive regulation of catalytic activity</text><text class="go" x="1577" y="1183">(GO:0043085)</text></g>
<g id="b-0031507"><circle cx="1286" cy="1202" r="17" fill="#9ba5d2"/><text class="go" x="1283" y="1235">heterochromatin assembly</text><text class="go" x="1283" y="1250">(GO:0031507)</text></g>
<g id="b-0045893"><circle cx="1436" cy="1224" r="17" fill="#c3cce6"/><text class="go" x="1437" y="1260">positive regulation of transcription,</text><text class="go" x="1437" y="1275">DNA-templated (GO:0045893)</text></g>
<g id="b-0000910"><circle cx="1187" cy="1240" r="17" fill="#b8c2de"/><text class="go" x="1194" y="1272">cytokinesis (GO:0000910)</text></g>
<g id="b-0110154b"><circle cx="921" cy="1250" r="17" fill="#a9b3d7"/><text class="go" x="906" y="1284">RNA decapping (GO:0110154)</text></g>
<g id="b-0008283"><circle cx="1074" cy="1271" r="17" fill="#a9b3d7"/><text class="go" x="1081" y="1305">cell population proliferation</text><text class="go" x="1081" y="1320">(GO:0008283)</text></g>

<!-- Panel C nodes -->
<g id="c-0045293"><circle cx="461" cy="1318" r="17" fill="#aaddd0"/><text class="go" x="460" y="1298">mRNA editing complex (GO:0045293)</text></g>
<g id="c-0045178a"><circle cx="270" cy="1347" r="17" fill="#90d3c0"/><text class="go" x="271" y="1327">basal part of cell (GO:0045178)</text></g>
<g id="c-0016281a"><circle cx="476" cy="1402" r="17" fill="#6fc5aa"/><text class="go" x="474" y="1366">eukaryotic translation initiation factor</text><text class="go" x="474" y="1382">4F complex (GO:0016281)</text></g>
<g id="c-0000932"><circle cx="287" cy="1411" r="17" fill="#b0e0d4"/><text class="go" x="287" y="1391">P-body (GO:0000932)</text></g>
<g id="c-0036396"><circle cx="388" cy="1433" r="17" fill="#aaddd0"/><text class="go" x="400" y="1465">RNA N6-methyladenosine</text><text class="go" x="400" y="1480">methyltransferase complex</text><text class="go" x="400" y="1496">(GO:0036396)</text></g>

<g id="c-0016281b"><circle cx="1063" cy="1395" r="17" fill="#b4c0de"/><text class="go" x="1055" y="1356">eukaryotic translation initiation factor</text><text class="go" x="1055" y="1372">4F complex (GO:0016281)</text></g>
<g id="c-0000785"><circle cx="933" cy="1433" r="17" fill="#bac4e0"/><text class="go" x="929" y="1412">chromatin (GO:0000785)</text></g>
<g id="c-0000792"><circle cx="874" cy="1465" r="17" fill="#a5afd5"/><text class="go" x="890" y="1495">heterochromatin (GO:0000792)</text></g>
<g id="c-0031902"><circle cx="1235" cy="1437" r="17" fill="#bac4e0"/><text class="go" x="1230" y="1417">late endosome membrane (GO:0031902)</text></g>
<g id="c-0005634"><circle cx="1287" cy="1458" r="17" fill="#8a90c3"/><text class="go" x="1287" y="1487">nucleus (GO:0005634)</text></g>
<g id="c-0070258"><circle cx="1075" cy="1493" r="17" fill="#c3cce6"/><text class="go" x="1073" y="1457">inner membrane pellicle complex</text><text class="go" x="1073" y="1472">(GO:0070258)</text></g>
<g id="c-0020039"><circle cx="974" cy="1518" r="17" fill="#c3cce6"/><text class="go" x="980" y="1549">pellicle (GO:0020039)</text></g>
<g id="c-0045178b"><circle cx="1180" cy="1515" r="17" fill="#853f98"/><text class="go" x="1178" y="1547">basal part of cell (GO:0045178)</text></g>

<!-- Panel D nodes -->
<g id="d-0005337"><circle cx="353" cy="1635" r="18" fill="#66c2a5"/><text class="go" x="353" y="1596" style="font-size:15px">nucleoside transmembrane transporter</text><text class="go" x="353" y="1613" style="font-size:15px">activity (GO:0005337)</text></g>
<g id="d-0003729a"><circle cx="509" cy="1677" r="18" fill="#2b8a55"/><text class="go" x="513" y="1709" style="font-size:15px">mRNA binding (GO:0003729)</text></g>
<g id="d-0061630"><circle cx="309" cy="1701" r="18" fill="#bde6dc"/><text class="go" x="312" y="1735" style="font-size:15px">ubiquitin protein ligase activity</text><text class="go" x="312" y="1752" style="font-size:15px">(GO:0061630)</text></g>

<g id="d-0035312"><circle cx="900" cy="1646" r="17" fill="#b4bedd"/><text class="go" x="896" y="1610">5'-3' exodeoxyribonuclease activity</text><text class="go" x="896" y="1626">(GO:0035312)</text></g>
<g id="d-0071889"><circle cx="1269" cy="1620" r="17" fill="#b0bbdc"/><text class="go" x="1269" y="1601">14-3-3 protein binding (GO:0071889)</text></g>
<g id="d-0004594"><circle cx="1118" cy="1668" r="17" fill="#9ea7d2"/><text class="go" x="1113" y="1631">pantothenate kinase activity</text><text class="go" x="1113" y="1646">(GO:0004594)</text></g>
<g id="d-0005515"><circle cx="1301" cy="1702" r="17" fill="#b8c2df"/><text class="go" x="1299" y="1679">protein binding (GO:0005515)</text></g>
<g id="d-0003723"><circle cx="908" cy="1718" r="17" fill="#bcc6e2"/><text class="go" x="911" y="1696">RNA binding (GO:0003723)</text></g>
<g id="d-0003729b"><circle cx="804" cy="1737" r="17" fill="#4d0a48"/><text class="go" x="792" y="1719">mRNA binding (GO:0003729)</text></g>
<g id="d-0050699"><circle cx="1108" cy="1740" r="17" fill="#aab3d8"/><text class="go" x="1108" y="1719">WW domain binding (GO:0050699)</text></g>
<g id="d-0062072"><circle cx="1296" cy="1781" r="17" fill="#9ea7d2"/><text class="go" x="1296" y="1744">H3K9me3 modified histone binding</text><text class="go" x="1296" y="1759">(GO:0062072)</text></g>
<g id="d-0004014"><circle cx="1121" cy="1819" r="17" fill="#8a8fc3"/><text class="go" x="1114" y="1781">adenosylmethionine decarboxylase</text><text class="go" x="1114" y="1796">activity (GO:0004014)</text></g>
<g id="d-0000976"><circle cx="884" cy="1803" r="17" fill="#c4cde8"/><text class="go" x="878" y="1837">transcription cis-regulatory region</text><text class="go" x="878" y="1852">binding (GO:0000976)</text></g>
<g id="d-0140034"><circle cx="1325" cy="1823" r="17" fill="#b0bbdc"/><text class="go" x="1329" y="1853">methylation-dependent protein binding</text><text class="go" x="1329" y="1868">(GO:0140034)</text></g>
<g id="d-0004586"><circle cx="1090" cy="1865" r="17" fill="#8a8fc3"/><text class="go" x="1094" y="1896">ornithine decarboxylase activity</text><text class="go" x="1094" y="1912">(GO:0004586)</text></g>

<!-- Color scale legend -->
<g id="legend-scale">
<text x="426" y="1785" style="font-family:'Liberation Sans',Arial,sans-serif;font-size:23.5px;fill:#111;text-anchor:middle">Log10(p-value)</text>
<text x="328" y="1822" style="font-family:'Liberation Sans',Arial,sans-serif;font-size:24px;fill:#111;text-anchor:end">Cmpd <tspan font-weight="bold">1</tspan></text>
<text x="328" y="1864" style="font-family:'Liberation Sans',Arial,sans-serif;font-size:24px;fill:#111;text-anchor:end">Cmpd <tspan font-weight="bold">12</tspan></text>
<rect x="342" y="1797" width="170" height="31" fill="url(#gG)" stroke="#e2e2e2" stroke-width="1"/>
<rect x="342" y="1839" width="170" height="31" fill="url(#gP)" stroke="#e2e2e2" stroke-width="1"/>
<text x="338" y="1891" style="font-family:'Liberation Sans',Arial,sans-serif;font-size:15px;fill:#111;text-anchor:middle">-3.5</text>
<text x="514" y="1891" style="font-family:'Liberation Sans',Arial,sans-serif;font-size:15px;fill:#111;text-anchor:middle">-1.0</text>
</g>
</svg>
